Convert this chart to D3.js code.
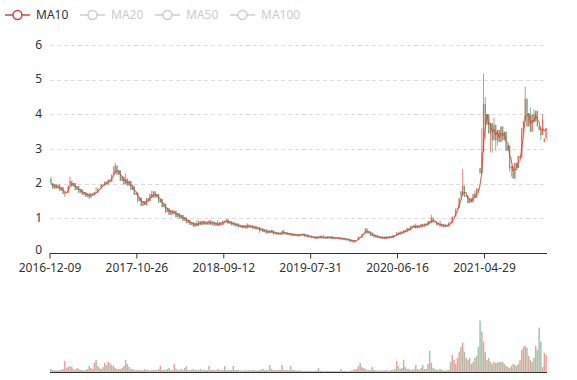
<!DOCTYPE html>
<html>
<head>
<meta charset="utf-8">
<script src="https://cdn.jsdelivr.net/npm/d3@7/dist/d3.min.js"></script>
<style>
  html, body { margin: 0; padding: 0; background: #fff; }
  svg { display: block; }
  text { font-family: "Noto Sans", "Liberation Sans", sans-serif; }
</style>
</head>
<body>
<svg id="chart" width="577" height="380"></svg>
<script>
// ---- data ----
const legendNames = ["MA10", "MA20", "MA50", "MA100"];
const tickLabels = ["2016-12-09", "2017-10-26", "2018-09-12", "2019-07-31", "2020-06-16", "2021-04-29"];
const yTicks = [0, 1, 2, 3, 4, 5, 6];
const firstOpen = 2.14;
const closes = [
  2.02,1.86,1.99,1.86,1.95,1.80,1.90,1.70,1.76,1.74,
  1.94,2.08,1.92,2.02,1.82,1.92,1.74,1.84,1.68,1.76,
  1.62,1.72,1.60,1.72,1.66,1.76,1.74,1.86,1.86,1.98,
  1.94,2.06,1.98,2.12,2.06,2.26,2.30,2.52,2.26,2.38,
  2.08,2.20,1.98,2.14,1.94,2.08,1.82,1.92,1.68,1.74,
  1.50,1.60,1.36,1.50,1.38,1.58,1.50,1.70,1.60,1.78,
  1.60,1.70,1.46,1.56,1.32,1.42,1.18,1.30,1.10,1.24,
  1.12,1.22,1.03,1.15,0.99,1.10,0.93,1.03,0.86,0.96,
  0.81,0.89,0.76,0.87,0.78,0.92,0.81,0.93,0.82,0.91,
  0.82,0.94,0.81,0.91,0.79,0.88,0.78,0.89,0.81,0.93,
  0.88,0.97,0.84,0.92,0.80,0.88,0.77,0.85,0.74,0.81,
  0.72,0.80,0.71,0.82,0.73,0.80,0.70,0.78,0.68,0.75,
  0.64,0.71,0.60,0.68,0.56,0.65,0.58,0.66,0.54,0.61,
  0.53,0.59,0.53,0.64,0.54,0.60,0.52,0.58,0.50,0.56,
  0.49,0.55,0.48,0.55,0.50,0.56,0.47,0.53,0.45,0.50,
  0.43,0.48,0.41,0.48,0.42,0.50,0.42,0.47,0.41,0.48,
  0.42,0.48,0.40,0.46,0.41,0.46,0.39,0.44,0.38,0.43,
  0.36,0.41,0.33,0.38,0.31,0.37,0.38,0.47,0.44,0.55,
  0.57,0.70,0.56,0.62,0.49,0.55,0.45,0.51,0.43,0.48,
  0.41,0.47,0.40,0.48,0.42,0.49,0.43,0.52,0.49,0.59,
  0.53,0.62,0.56,0.66,0.60,0.72,0.65,0.78,0.72,0.81,
  0.71,0.80,0.73,0.84,0.76,0.85,0.79,0.92,0.86,1.02,
  0.88,0.91,0.80,0.87,0.76,0.84,0.74,0.82,0.76,0.88,
  0.86,1.05,1.05,1.28,1.30,1.58,1.66,1.94,1.62,1.66,
  1.44,1.58,1.46,1.70,1.60,1.86,1.76,2.30,2.90,4.30,
  3.70,4.00,3.45,3.75,3.25,3.70,3.25,3.55,3.20,3.65,
  3.25,3.50,2.95,3.10,2.45,2.50,2.15,2.60,2.45,2.80,
  2.75,3.60,3.80,4.45,3.65,4.00,3.50,4.00,3.80,4.10,
  3.65,3.55,3.40,3.85,3.30,3.60
];
const volumes = [
  3,2,2,1.5,1.5,2,2,3,11,4,
  5,6,5,3,2,4,3,2,2,1.5,
  2,3,6,4,3,9,12,6,4,3,
  5,9,7,10,9,7,6,4,3,3,
  3,4,6,12,8,5,3,3,2,2,
  2,2,1.5,2,3,2,2,1.5,2,2,
  2,2,3,6,2,2,2,3,4,2,
  2,8,3,2,2,3,2,4,6,2,
  2,2,3,2,2,2,3,2,2,2,
  2,6,2,2,2,2,3,2,2,2,
  6,2,2,2,2,6,2,2,2,1.5,
  1.5,1.5,2,1.5,2,1.5,2,2,1.5,1.5,
  2,2,3,2,2,2,7,3,2,2,
  2,2,2,7,2,2,2,2,6,2,
  2,1.5,1.5,1.5,1.5,1,1,1.5,1,1,
  1,1,1,1.5,4,1.5,1,1,1,1,
  1,1,1,1,1,1,1,3,1,1,
  1,1,1,1.5,2,3,3,6,9,5,
  4,3,2,2,2,5,2,1.5,1.5,1.5,
  1.5,1.5,1.5,2,1.5,1.5,2,2,3,11,
  6,3,4,12,5,3,3,2,2,3,
  7,3,2,4,7,3,3,8,21,9,
  4,3,2,2,3,2,1.5,1.5,2,2,
  10,17,12,8,14,20,25,29,20,14,
  12,14,8,10,14,16,25,51,40,30,
  20,12,14,10,8,10,9,9,10,10,
  10,8,6,5,4,6,8,7,6,8,
  12,22,25,26,24,16,12,10,14,26,
  22,44,30,5,19,17
];
// opens that differ from the previous close (gap days)
const openOverrides = [[236, 1.78], [247, 2.45], [284, 3.20]];
const highSpikes = [[0,2.2],[5,2.0],[11,2.2],[16,1.94],[26,1.9],[36,2.5],[37,2.6],[43,2.3],[47,1.98],
  [58,1.8],[84,0.95],[96,0.95],[113,0.86],[134,0.68],[157,0.52],[181,0.72],[185,0.6],[210,0.85],
  [219,1.1],[224,0.95],[237,2.42],[244,1.8],[248,3.6],[249,5.18],[250,4.5],[255,3.9],[262,3.5],
  [273,4.8],[276,4.2],[278,4.15],[280,4.0],[283,4.0]];
const lowSpikes = [[8,1.62],[22,1.56],[50,1.45],[66,1.15],[120,0.58],[174,0.29],[236,1.55],
  [250,3.3],[253,2.9],[254,2.9],[256,2.95],[257,3.1],[264,2.35],[265,2.2],[272,3.45],[282,3.25],[284,3.2]];
const maWindow = 3; // about 10 trading days at this sampling

// ---- build candles ----
const N = closes.length;
const hiMap = new Map(highSpikes), loMap = new Map(lowSpikes), opMap = new Map(openOverrides);
const candles = closes.map((c, i) => {
  const o = opMap.has(i) ? opMap.get(i) : (i === 0 ? firstOpen : closes[i - 1]);
  const hi = Math.max(o, c, hiMap.get(i) ?? -Infinity);
  const lo = Math.min(o, c, loMap.get(i) ?? Infinity);
  return { i, o, c, hi, lo, up: c >= o, v: volumes[i] };
});
const ma = closes.map((c, i) => d3.mean(closes.slice(Math.max(0, i - maWindow + 1), i + 1)));

// ---- layout ----
const svg = d3.select("#chart");
const left = 50, right = 547;
const x = d3.scaleBand().domain(d3.range(N)).range([left, right]).paddingInner(0.15).paddingOuter(0.1);
const xb = d3.scaleBand().domain(d3.range(N)).range([left, right]);
const y = d3.scaleLinear().domain([0, 6]).range([253, 45]);
const yv = d3.scaleLinear().domain([0, d3.max(volumes) * 1.3]).range([372, 305]);

const upColor = "#e4503e", downColor = "#3f9d6c", maColor = "#d2443a";
const axisFont = "'Liberation Sans', Arial, sans-serif";

// gridlines
svg.append("g").selectAll("line").data(yTicks.filter(d => d > 0)).join("line")
  .attr("x1", left).attr("x2", right)
  .attr("y1", d => Math.round(y(d)) + 0.5).attr("y2", d => Math.round(y(d)) + 0.5)
  .attr("stroke", "#dcdcdc").attr("stroke-dasharray", "4,3");

// y labels
svg.append("g").selectAll("text").data(yTicks).join("text")
  .attr("x", 42).attr("y", d => y(d)).attr("dy", d => d === 0 ? "0.1em" : "0.3em")
  .attr("text-anchor", "end").attr("font-size", 12).attr("fill", "#333")
  .attr("font-family", axisFont)
  .text(d => d);

// candles
const cg = svg.append("g");
cg.selectAll("line").data(candles).join("line")
  .attr("x1", d => x(d.i) + x.bandwidth() / 2).attr("x2", d => x(d.i) + x.bandwidth() / 2)
  .attr("y1", d => y(d.hi)).attr("y2", d => y(d.lo))
  .attr("stroke", d => d.up ? upColor : downColor).attr("stroke-width", 0.9).attr("opacity", 0.75);
cg.selectAll("rect").data(candles).join("rect")
  .attr("x", d => x(d.i)).attr("width", x.bandwidth())
  .attr("y", d => y(Math.max(d.o, d.c)))
  .attr("height", d => Math.max(1, y(Math.min(d.o, d.c)) - y(Math.max(d.o, d.c))))
  .attr("fill", d => d.up ? upColor : downColor).attr("opacity", 0.6);

// MA10 line
svg.append("path").datum(ma)
  .attr("fill", "none").attr("stroke", maColor).attr("stroke-width", 1).attr("opacity", 0.9)
  .attr("d", d3.line().x((d, i) => x(i) + x.bandwidth() / 2).y(d => y(d)));

// x axis
const tickIdx = tickLabels.map((_, k) => k * 50);
const xAxis = d3.axisBottom(xb).tickValues(tickIdx).tickSize(5).tickPadding(5)
  .tickFormat(i => tickLabels[i / 50]);
const gx = svg.append("g").attr("transform", "translate(0,253)").call(xAxis);
gx.selectAll(".tick").attr("transform", d => `translate(${xb(d)},0)`);
gx.select(".domain").attr("stroke", "#333").attr("d", `M${left},0.5H${right}`);
gx.selectAll(".tick line").attr("stroke", "#333").attr("transform", "translate(0,0.5)");
gx.selectAll(".tick text").attr("font-size", 12).attr("fill", "#333")
  .attr("font-family", axisFont);

// volume bars
svg.append("g").selectAll("rect").data(candles).join("rect")
  .attr("x", d => x(d.i)).attr("width", x.bandwidth())
  .attr("y", d => yv(d.v)).attr("height", d => yv(0) - yv(d.v))
  .attr("fill", d => d.up ? upColor : downColor).attr("opacity", 0.55);
svg.append("line").attr("x1", left).attr("x2", right)
  .attr("y1", 372.5).attr("y2", 372.5).attr("stroke", "#333");

// legend
const lg = svg.append("g");
legendNames.forEach((name, k) => {
  const x0 = 5 + k * 75;
  const col = k === 0 ? maColor : "#ccc";
  const g = lg.append("g").attr("transform", `translate(${x0},15)`);
  g.append("line").attr("x1", 0).attr("x2", 25).attr("y1", 0).attr("y2", 0)
    .attr("stroke", col).attr("stroke-width", 1.5);
  g.append("circle").attr("cx", 12.5).attr("cy", 0).attr("r", 4.5)
    .attr("fill", "#fff").attr("stroke", col).attr("stroke-width", 1.5);
  g.append("text").attr("x", 31).attr("y", 0).attr("dy", "0.35em")
    .attr("font-size", 12).attr("fill", k === 0 ? "#333" : "#ccc").text(name);
});
</script>
</body>
</html>
